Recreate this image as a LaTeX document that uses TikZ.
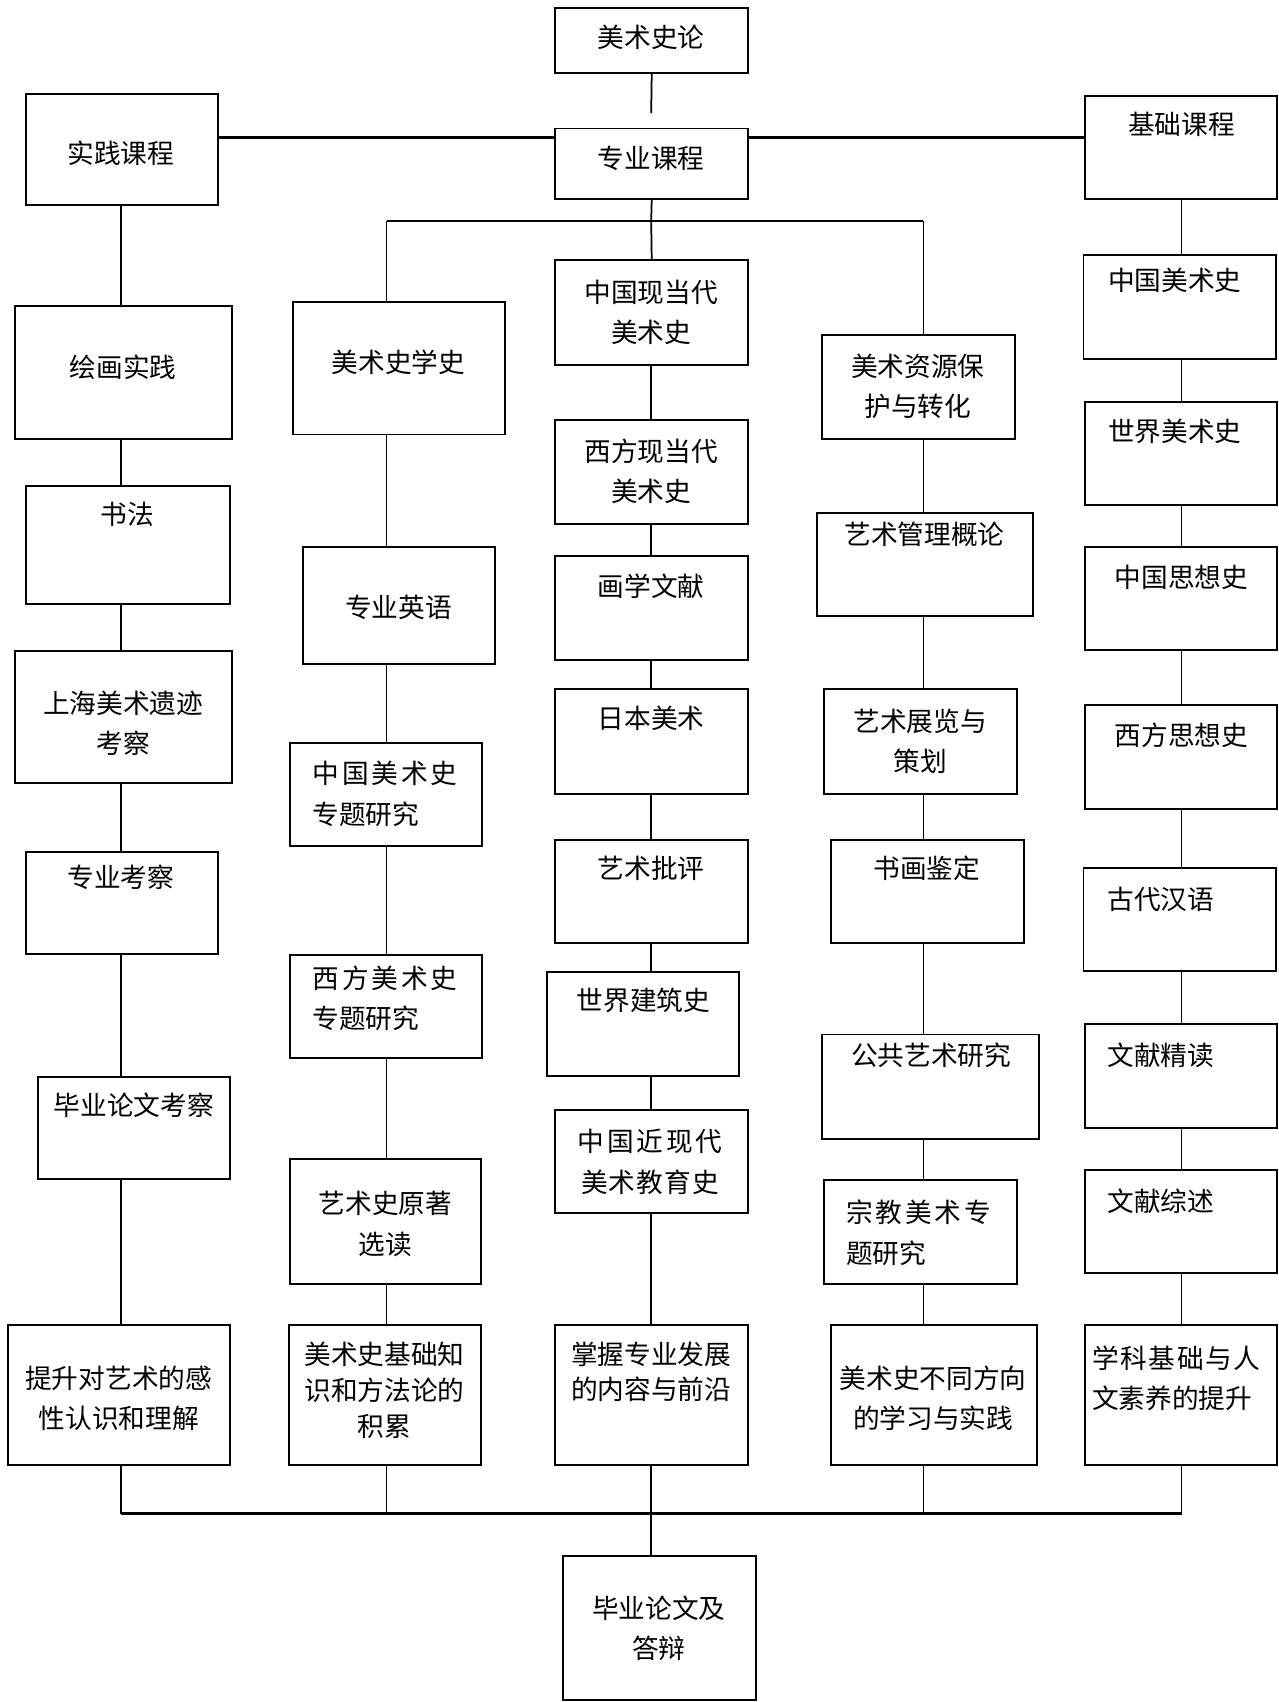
\documentclass[tikz,border=0pt]{standalone}
\usepackage{fontspec}
\setmainfont{Noto Sans CJK SC}
\newcommand\K{\kern2.6pt}
\newcommand\bx[5]{\node[box,minimum width={#4-#2},minimum height={#5-#3}] (#1) at ({(#2+#4)/2},{(#3+#5)/2}) {};}
\begin{document}
\begin{tikzpicture}[x=1pt,y=-1pt,
  box/.style={draw,line width=1.8pt,inner sep=0pt,outer sep=0pt,rectangle},
  txt/.style={inner sep=0pt,outer sep=0pt,align=center,font=\fontsize{24.5}{37}\selectfont},
  ltxt/.style={txt,align=left,anchor=west},
  conn/.style={line width=1.6pt},
  hconn/.style={line width=2.4pt}]
\useasboundingbox[fill=white] (0,0) rectangle (1174,1563);
% ---------- boxes ----------
\bx{ms}{510}{7}{687}{67}
\bx{zs}{510}{118}{687}{183}
\bx{pj}{24}{86}{200}{188}
\bx{jc}{996}{88}{1173}{183}
% column 1
\bx{hh}{14}{281}{213}{403}
\bx{sf}{24}{446}{211}{555}
\bx{sh}{14}{598}{213}{719}
\bx{zk}{24}{782}{200}{876}
\bx{by}{35}{989}{211}{1083}
\bx{ts}{7}{1217}{211}{1345}
% column 2
\bx{mx}{269}{277}{464}{399}
\bx{zy}{278}{502}{455}{610}
\bx{zgz}{266}{682}{443}{777}
\bx{xfz}{266}{877}{443}{972}
\bx{yy}{266}{1064}{442}{1179}
\bx{mj}{265}{1217}{442}{1345}
% column 3
\bx{zgx}{510}{239}{687}{335}
\bx{xfx}{510}{386}{687}{481}
\bx{hx}{510}{511}{687}{606}
\bx{rb}{510}{633}{687}{729}
\bx{yp}{510}{771}{687}{866}
\bx{sj}{502}{893}{679}{988}
\bx{zj}{510}{1019}{687}{1114}
\bx{zw}{510}{1217}{687}{1345}
\bx{bl}{517}{1429}{694}{1561}
% column 4
\bx{mz}{755}{308}{932}{403}
\bx{yg}{750}{471}{949}{566}
\bx{yz}{757}{633}{934}{729}
\bx{shj}{763}{771}{940}{866}
\bx{gg}{755}{950}{954}{1046}
\bx{zjm}{757}{1084}{934}{1179}
\bx{mb}{763}{1217}{952}{1345}
% column 5
\bx{zgm}{995}{234}{1172}{330}
\bx{sjm}{996}{369}{1173}{464}
\bx{zgs}{996}{502}{1173}{597}
\bx{xfs}{996}{647}{1173}{743}
\bx{gd}{995}{797}{1172}{892}
\bx{wj}{996}{940}{1173}{1036}
\bx{wz}{996}{1074}{1173}{1169}
\bx{xk}{996}{1217}{1173}{1345}
% ---------- texts ----------
\node[txt] (ms-t) at (598,34) {美术史论};
\node[txt] (zs-t) at (598,145) {专业课程};
\node[txt] (pj-t) at (111,141) {实践课程};
\node[txt] (jc-t) at (1085,114) {基础课程};
\node[txt] (hh-t) at (113,337) {绘画实践};
\node[txt] (sf-t) at (117,472) {书法};
\node[txt] (sh-t) at (113,664) {上海美术遗迹\\考察};
\node[txt] (zk-t) at (111,806) {专业考察};
\node[txt] (by-t) at (123,1015) {毕业论文考察};
\node[txt] (ts-t) at (109,1284) {提升对艺术的感\\性认识和理解};
\node[txt] (mx-t) at (366,333) {美术史学史};
\node[txt] (zy-t) at (366,558) {专业英语};
\node[ltxt] (zgz-t) at (287,729) {中\K 国\K 美\K 术\K 史\\专题研究};
\node[ltxt] (xfz-t) at (287,917) {西\K 方\K 美\K 术\K 史\\专题研究};
\node[txt] (yy-t) at (354,1124) {艺术史原著\\选读};
\node[txt,font=\fontsize{24.5}{33}\selectfont] (mj-t) at (353,1277) {美术史基础知\\识和方法论的\\积累};
\node[txt] (zgx-t) at (598,287) {中国现当代\\美术史};
\node[txt] (xfx-t) at (598,433) {西方现当代\\美术史};
\node[txt] (hx-t) at (598,538) {画学文献};
\node[txt] (rb-t) at (598,660) {日本美术};
\node[txt] (yp-t) at (598,797) {艺术批评};
\node[txt] (sj-t) at (591,919) {世界建筑史};
\node[txt] (zj-t) at (597,1067) {中\K 国\K 近\K 现\K 代\\美\kern1pt 术\kern1pt 教\kern1pt 育\kern1pt 史};
\node[txt,font=\fontsize{24.5}{32}\selectfont] (zw-t) at (598,1260) {掌握专业发展\\的内容与前沿};
\node[txt] (bl-t) at (605,1495) {毕业论文及\\答辩};
\node[txt] (mz-t) at (843,355) {美术资源保\\护与转化};
\node[txt] (yg-t) at (849,491) {艺术管理概论};
\node[txt] (yz-t) at (845,681) {艺术展览与\\策划};
\node[txt] (shj-t) at (851,797) {书画鉴定};
\node[txt] (gg-t) at (855,969) {公共艺术研究};
\node[ltxt] (zjm-t) at (777,1132) {宗\K 教\K 美\K 术\K 专\\题研究};
\node[txt] (mb-t) at (857,1284) {美术史不同方向\\的学习与实践};
\node[txt] (zgm-t) at (1079,257) {中国美术史};
\node[txt] (sjm-t) at (1079,396) {世界美术史};
\node[txt] (zgs-t) at (1085,530) {中国思想史};
\node[txt] (xfs-t) at (1085,675) {西方思想史};
\node[txt] (gd-t) at (1066,826) {古代汉语};
\node[txt] (wj-t) at (1066,969) {文献精读};
\node[txt] (wz-t) at (1066,1103) {文献综述};
\node[ltxt] (xk-t) at (1003,1266) {学\kern1.5pt 科\kern1.5pt 基\kern1.5pt 础\kern1.5pt 与\kern1.5pt 人\\文素养的提升};
% ---------- coordinates ----------
\coordinate (c1) at (111,0);
\coordinate (c2) at (355,0);
\coordinate (c3) at (598,0);
\coordinate (c4) at (848,0);
\coordinate (c5) at (1085,0);
\coordinate (msend) at (598,104);
\coordinate (h1) at (0,126);
\coordinate (br) at (598,203);
\coordinate (brL) at (355,203);
\coordinate (brR) at (848,203);
\coordinate (bot) at (598,1390);
\coordinate (botL) at (111,1390);
\coordinate (botR) at (1085,1390);
% ---------- connectors ----------
\draw[conn] (ms.south) -- (msend);
\draw[hconn] (pj.east |- h1) -- (zs.west |- h1);
\draw[hconn] (zs.east |- h1) -- (jc.west |- h1);
\draw[conn] (zs.south) -- (br);
\draw[hconn] (brL) -- (brR);
\draw[conn] (brL) -- (mx.north -| c2);
\draw[conn] (br) -- (zgx.north);
\draw[conn] (brR) -- (mz.north -| c4);
% column 1
\draw[conn] (pj.south -| c1) -- (hh.north -| c1);
\draw[conn] (hh.south -| c1) -- (sf.north -| c1);
\draw[conn] (sf.south -| c1) -- (sh.north -| c1);
\draw[conn] (sh.south -| c1) -- (zk.north -| c1);
\draw[conn] (zk.south -| c1) -- (by.north -| c1);
\draw[conn] (by.south -| c1) -- (ts.north -| c1);
\draw[conn] (ts.south -| c1) -- (botL);
% column 2
\draw[conn] (mx.south -| c2) -- (zy.north -| c2);
\draw[conn] (zy.south -| c2) -- (zgz.north -| c2);
\draw[conn] (zgz.south -| c2) -- (xfz.north -| c2);
\draw[conn] (xfz.south -| c2) -- (yy.north -| c2);
\draw[conn] (yy.south -| c2) -- (mj.north -| c2);
\draw[conn] (mj.south -| c2) -- (botL -| c2);
% column 3
\draw[conn] (zgx.south -| c3) -- (xfx.north -| c3);
\draw[conn] (xfx.south -| c3) -- (hx.north -| c3);
\draw[conn] (hx.south -| c3) -- (rb.north -| c3);
\draw[conn] (rb.south -| c3) -- (yp.north -| c3);
\draw[conn] (yp.south -| c3) -- (sj.north -| c3);
\draw[conn] (sj.south -| c3) -- (zj.north -| c3);
\draw[conn] (zj.south -| c3) -- (zw.north -| c3);
\draw[conn] (zw.south -| c3) -- (bot);
\draw[conn] (bot) -- (bl.north -| c3);
% column 4
\draw[conn] (mz.south -| c4) -- (yg.north -| c4);
\draw[conn] (yg.south -| c4) -- (yz.north -| c4);
\draw[conn] (yz.south -| c4) -- (shj.north -| c4);
\draw[conn] (shj.south -| c4) -- (gg.north -| c4);
\draw[conn] (gg.south -| c4) -- (zjm.north -| c4);
\draw[conn] (zjm.south -| c4) -- (mb.north -| c4);
\draw[conn] (mb.south -| c4) -- (botL -| c4);
% column 5
\draw[conn] (jc.south -| c5) -- (zgm.north -| c5);
\draw[conn] (zgm.south -| c5) -- (sjm.north -| c5);
\draw[conn] (sjm.south -| c5) -- (zgs.north -| c5);
\draw[conn] (zgs.south -| c5) -- (xfs.north -| c5);
\draw[conn] (xfs.south -| c5) -- (gd.north -| c5);
\draw[conn] (gd.south -| c5) -- (wj.north -| c5);
\draw[conn] (wj.south -| c5) -- (wz.north -| c5);
\draw[conn] (wz.south -| c5) -- (xk.north -| c5);
\draw[conn] (xk.south -| c5) -- (botR);
% bottom bus
\draw[hconn] (botL) -- (botR);
\end{tikzpicture}
\end{document}
